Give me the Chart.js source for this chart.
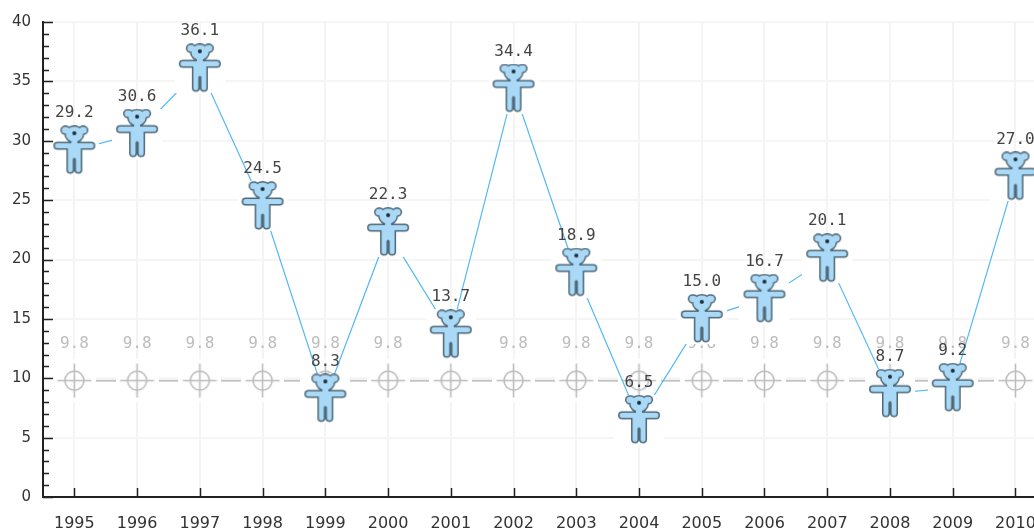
<!DOCTYPE html>
<html>
<head>
<meta charset="utf-8">
<title>Bear chart</title>
<script src="https://cdn.jsdelivr.net/npm/chart.js@4/dist/chart.umd.min.js"></script>
<style>
  html, body { margin:0; padding:0; background:#fff; overflow:hidden; }
  canvas { display:block; }
</style>
</head>
<body>
<canvas id="bearChart" width="1053" height="529"></canvas>
<script>
// --------- data -------------------------------
const years = ['1995','1996','1997','1998','1999','2000','2001','2002','2003','2004','2005','2006','2007','2008','2009','2010'];
const bearValues = [29.2,30.6,36.1,24.5,8.3,22.3,13.7,34.4,18.9,6.5,15.0,16.7,20.1,8.7,9.2,27.0];
const meanValues = [9.8,9.8,9.8,9.8,9.8,9.8,9.8,9.8,9.8,9.8,9.8,9.8,9.8,9.8,9.8,9.8];
const yMajorStep = 5;

// ---------- marker sprites ----------
function makeBear(){
  const c = document.createElement('canvas');
  c.width = 50; c.height = 50;
  const g = c.getContext('2d');
  g.fillStyle = '#fff';
  g.fillRect(0,0,50,50);
  g.translate(25,25);
  g.filter = 'blur(0.4px)';
  const bear = new Path2D();
  // ears + head
  bear.ellipse(-8.8,-20,3.8,3.2,0,0,Math.PI*2);
  bear.ellipse(8.8,-20,3.8,3.2,0,0,Math.PI*2);
  bear.ellipse(0,-16,8.5,7.5,0,0,Math.PI*2);
  // neck, arms, body with the legs split at the bottom
  bear.moveTo(-3,-10);
  bear.lineTo(3,-10);
  bear.lineTo(3,-7);
  bear.lineTo(17,-7);
  bear.arc(17,-4.5,2.5,-Math.PI/2,Math.PI/2);
  bear.lineTo(6.5,-2);
  bear.lineTo(6.5,19.5);
  bear.arc(4,19.5,2.5,0,Math.PI);
  bear.lineTo(1.5,9);
  bear.arc(0,9,1.5,0,Math.PI,true);
  bear.lineTo(-1.5,19.5);
  bear.arc(-4,19.5,2.5,0,Math.PI);
  bear.lineTo(-6.5,-2);
  bear.lineTo(-17,-2);
  bear.arc(-17,-4.5,2.5,Math.PI/2,-Math.PI/2);
  bear.lineTo(-3,-7);
  bear.closePath();
  g.strokeStyle = '#4e6877';
  g.lineWidth = 3;
  g.lineJoin = 'round';
  g.stroke(bear);
  g.fillStyle = '#a9d9f6';
  g.fill(bear);
  // the slit between the legs stays dark
  g.strokeStyle = '#4e6877';
  g.lineWidth = 2.4;
  g.beginPath(); g.moveTo(0,9); g.lineTo(0,21); g.stroke();
  g.fillStyle = '#1f2d36';
  g.beginPath(); g.arc(0,-17,2,0,Math.PI*2); g.fill();
  return c;
}

function makeCross(){
  const c = document.createElement('canvas');
  c.width = 43; c.height = 43;
  const g = c.getContext('2d');
  g.fillStyle = '#fff';
  g.fillRect(0,0,43,43);
  g.translate(21.5,21.5);
  g.strokeStyle = '#bdbdbd';
  g.lineWidth = 1.6;
  g.beginPath(); g.arc(0,0,9.5,0,Math.PI*2); g.stroke();
  g.beginPath();
  g.moveTo(-17,0); g.lineTo(17,0);
  g.moveTo(0,-17); g.lineTo(0,17);
  g.stroke();
  return c;
}

// ---------- small plugin: value labels and inward ticks ----------
function drawValues(chart, index, color){
  const meta = chart.getDatasetMeta(index);
  const values = chart.data.datasets[index].data;
  const g = chart.ctx;
  g.save();
  g.font = '16px "DejaVu Sans Mono"';
  g.fillStyle = color;
  g.textAlign = 'center';
  g.textBaseline = 'middle';
  meta.data.forEach((pt,i)=>{
    g.fillText(values[i].toFixed(1), pt.x, pt.y-37);
  });
  g.restore();
}

const bearExtras = {
  id: 'bearExtras',
  afterDatasetDraw(chart, args){
    drawValues(chart, args.index, args.index===0 ? '#444' : '#bdbdbd');
  },
  afterDraw(chart){
    const g = chart.ctx, x = chart.scales.x, y = chart.scales.y;
    const area = chart.chartArea;
    g.save();
    g.strokeStyle = '#222';
    g.lineWidth = 1.5;
    g.beginPath();
    y.ticks.forEach(t=>{
      const py = Math.round(y.getPixelForValue(t.value))+0.5;
      g.moveTo(area.left, py);
      g.lineTo(area.left + (t.value%yMajorStep===0 ? 10 : 6), py);
    });
    years.forEach((_,i)=>{
      const px = Math.round(x.getPixelForValue(i))+0.5;
      g.moveTo(px, area.bottom);
      g.lineTo(px, area.bottom-9);
    });
    g.stroke();
    g.restore();
  }
};

// ---------- Chart.js setup ----------
const ctx = document.getElementById('bearChart').getContext('2d');

new Chart(ctx, {
  type: 'line',
  plugins: [bearExtras],
  data: {
    labels: years,
    datasets: [
      {
        label: 'Bears',
        data: bearValues,
        borderColor: '#52b9f5',
        borderWidth: 1.2,
        tension: 0,
        pointStyle: makeBear(),
        order: 1
      },
      {
        label: 'Mean',
        data: meanValues,
        borderColor: '#c4c4c4',
        borderWidth: 2,
        tension: 0,
        pointStyle: makeCross(),
        order: 2
      }
    ]
  },
  options: {
    responsive: false,
    animation: false,
    layout: { padding: { top: 22, left: 0, right: 0, bottom: 0 } },
    plugins: { legend: { display:false }, tooltip: { enabled:false } },
    scales: {
      x: {
        offset: true,
        afterFit(s){ s.height = 32; },
        border: { color:'#222', width:2 },
        grid: { color:'#f4f4f4', lineWidth:2, drawTicks:false },
        ticks: { color:'#333', font:{ family:'"DejaVu Sans"', size:16 }, padding:17, maxRotation:0, autoSkip:false }
      },
      y: {
        min: 0,
        max: 40,
        afterFit(s){ s.width = 43; },
        border: { color:'#222', width:2 },
        grid: {
          drawTicks: false,
          lineWidth: 2,
          color: c => c.tick.value%yMajorStep===0 ? '#f5f5f5' : 'rgba(0,0,0,0)'
        },
        ticks: {
          stepSize: 1,
          autoSkip: false,
          color: '#333',
          font: { family:'"DejaVu Sans"', size:15 },
          padding: 12,
          callback: v => v%yMajorStep===0 ? String(v) : ''
        }
      }
    }
  }
});
</script>
</body>
</html>
